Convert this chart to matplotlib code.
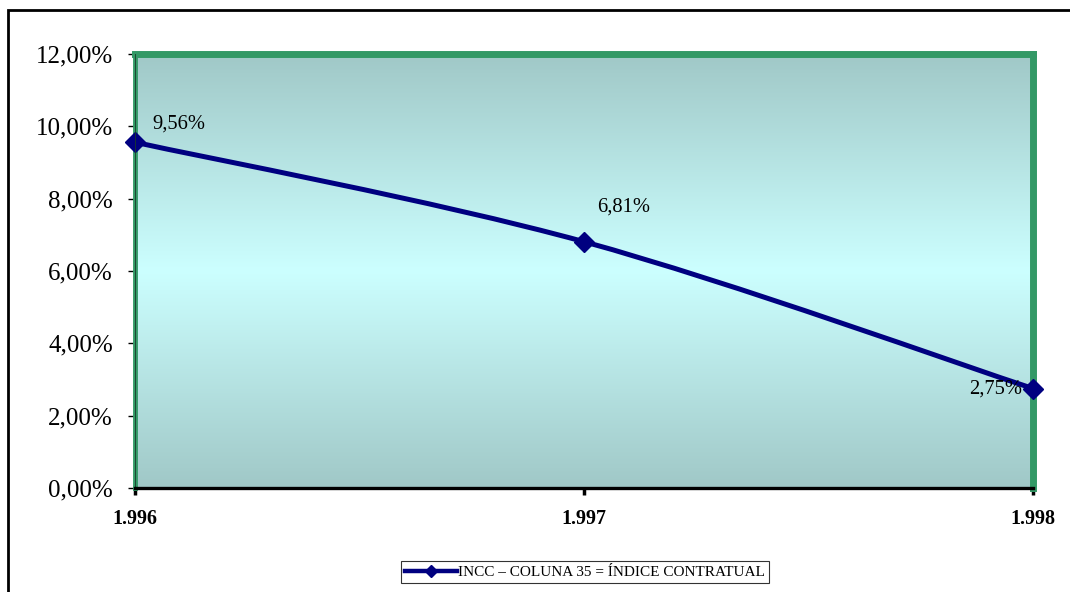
import numpy as np
import matplotlib.pyplot as plt
from matplotlib.path import Path
from matplotlib.patches import PathPatch, Rectangle
from matplotlib.lines import Line2D
from matplotlib.ticker import FuncFormatter
from matplotlib.colors import LinearSegmentedColormap

plt.rcParams['font.family'] = ['Liberation Serif', 'DejaVu Serif']

years = ['1.996', '1.997', '1.998']
incc = [9.56, 6.81, 2.75]
label_text = ['9,56%', '6,81%', '2,75%']
series_name = 'INCC \u2013 COLUNA 35 = \u00cdNDICE CONTRATUAL'

NAVY = '#000080'
GREEN = '#339966'

fig = plt.figure(figsize=(10.7, 5.92), dpi=100)
ax = fig.add_axes([0.12617, 0.17568, 0.83925, 0.73311])

x = np.arange(len(years), dtype=float)
y = np.array(incc, dtype=float)

ax.set_xlim(0, len(years) - 1)
ax.set_ylim(0, 12)

# plot area fill: grey-teal at the edges, pale cyan in the middle
cmap = LinearSegmentedColormap.from_list('fill', ['#a0c8c7', '#ccffff', '#a0c8c7'])
ax.imshow(np.linspace(0, 1, 256).reshape(-1, 1), cmap=cmap, aspect='auto',
          extent=(0, len(years) - 1, 0, 12), origin='upper', zorder=0)


# smoothed line (bezier segments, control points from neighbouring values)
def smooth_path(xs, ys):
    pts = np.column_stack([xs, ys])
    ext = np.vstack([pts[0], pts, pts[-1]])
    verts = [pts[0]]
    codes = [Path.MOVETO]
    for i in range(len(pts) - 1):
        p0, p1, p2, p3 = ext[i], ext[i + 1], ext[i + 2], ext[i + 3]
        c1 = p1 + (p2 - p0) / 6.0
        c2 = p2 - (p3 - p1) / 6.0
        verts += [c1, c2, p2]
        codes += [Path.CURVE4] * 3
    return Path(verts, codes)


ax.add_patch(PathPatch(smooth_path(x, y), facecolor='none', edgecolor=NAVY,
                       lw=3.6, zorder=3, clip_on=False, capstyle='round'))
ax.plot(x, y, linestyle='none', marker='D', ms=10, color=NAVY, zorder=4, clip_on=False)

offsets = [(17, 18), (13, 35), (-11, -1)]
aligns = ['left', 'left', 'right']
for xi, yi, txt, off, ha in zip(x, y, label_text, offsets, aligns):
    ax.annotate(txt, (xi, yi), xytext=off, textcoords='offset pixels',
                ha=ha, va='center', fontsize=14.8, zorder=5)

# frame: green sides/top, black baseline
for side in ['left', 'right', 'top']:
    ax.spines[side].set_color(GREEN)
    ax.spines[side].set_linewidth(5)
ax.spines['left'].set_linewidth(3.5)
ax.spines['bottom'].set_color('black')
ax.spines['bottom'].set_linewidth(2.4)
ax.spines['bottom'].set_zorder(6)
ax.axvline(0, color='#1a3a2a', lw=1.2, zorder=6)

ax.set_xticks(x)
ax.set_xticklabels(years, fontsize=14.5, fontweight='bold')
ax.tick_params(axis='x', direction='out', length=5, width=2.5, pad=10, color='black')

ax.set_yticks(np.arange(0, 13, 2))
ax.yaxis.set_major_formatter(FuncFormatter(lambda v, p: f'{v:.2f}%'.replace('.', ',')))
ax.tick_params(axis='y', direction='out', length=5, width=1, pad=11, labelsize=18)

handle = Line2D([], [], color=NAVY, lw=3.2, marker='D', ms=6.5)
leg = fig.legend(handles=[handle], labels=[series_name], loc='center',
                 bbox_to_anchor=(585 / 1070, 1 - 572 / 592), frameon=True,
                 fancybox=False, edgecolor='black', fontsize=11,
                 handlelength=3.4, handletextpad=0.05, borderpad=0.3,
                 borderaxespad=0)
leg.get_frame().set_linewidth(0.8)

# outer chart border
fig.patches.append(Rectangle((8 / 1070, -0.05), 1.2, 1 - 10 / 592 + 0.05,
                             transform=fig.transFigure, fill=False,
                             edgecolor='black', lw=2))

fig.savefig('out.png', dpi=100)
